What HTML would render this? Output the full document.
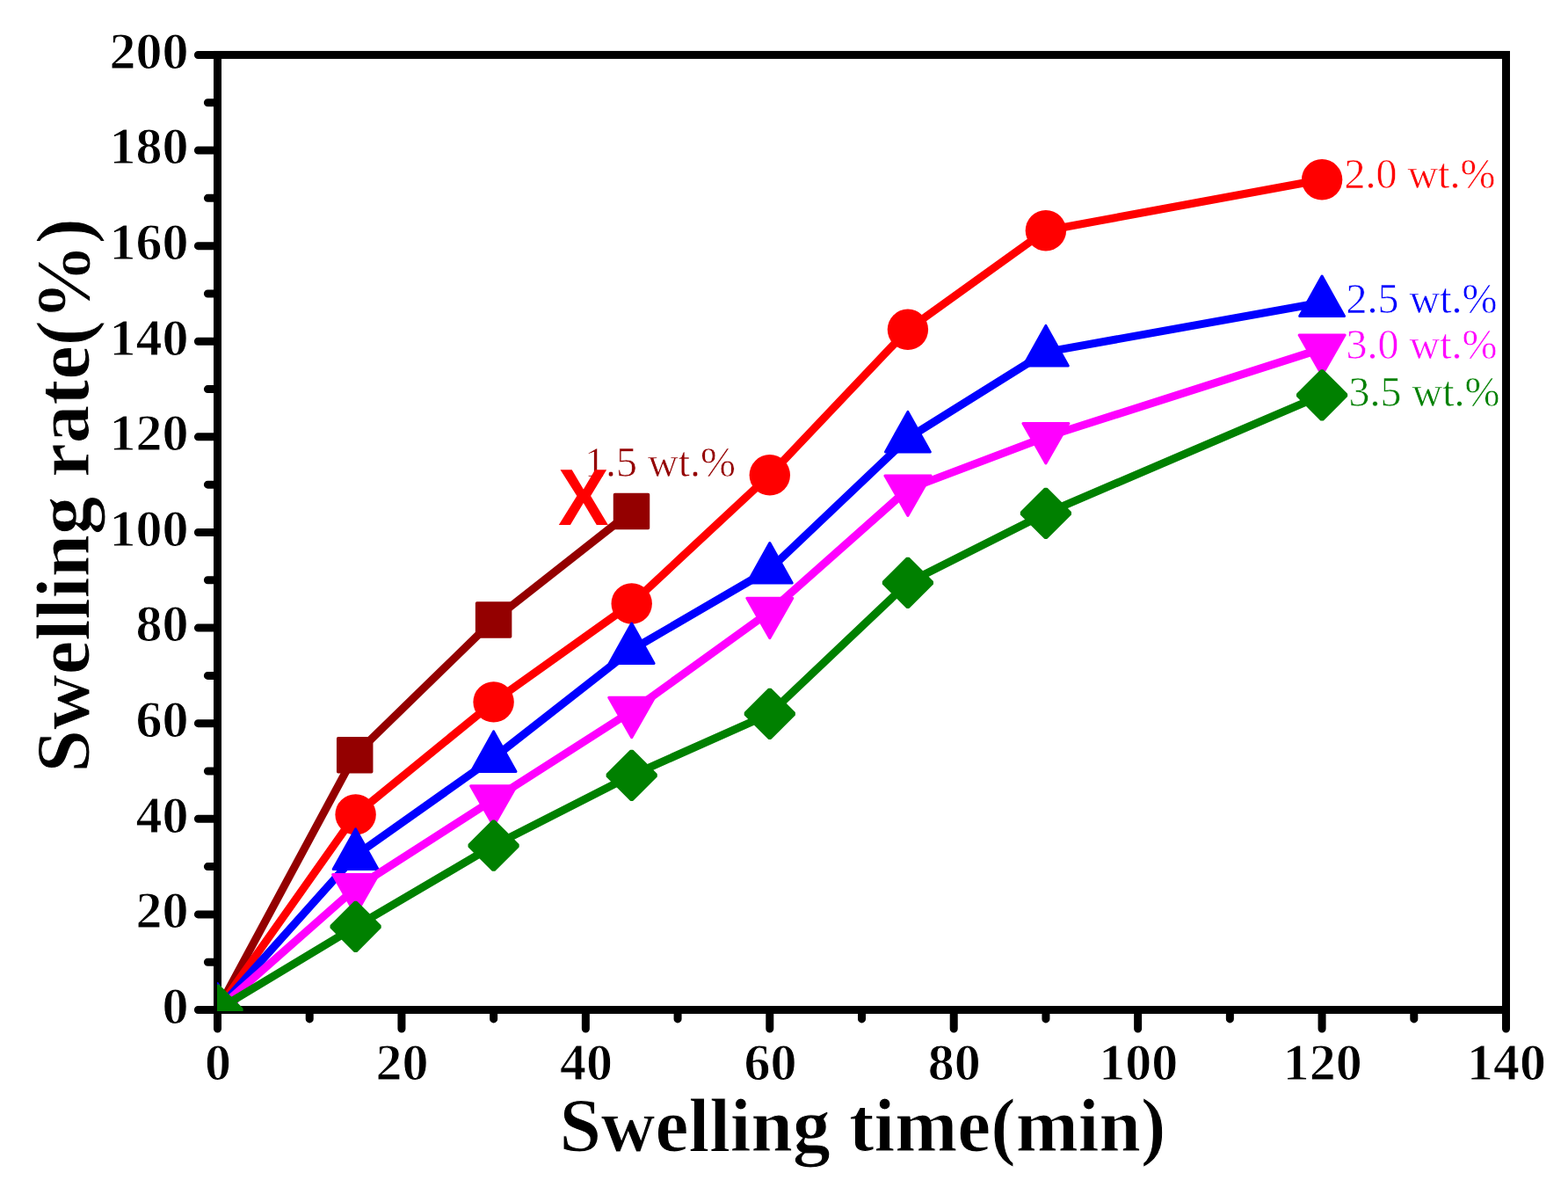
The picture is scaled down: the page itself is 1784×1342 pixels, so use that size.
<!DOCTYPE html>
<html><head><meta charset="utf-8"><title>Swelling rate vs swelling time</title>
<style>html,body{margin:0;padding:0;background:#fff;}svg{display:block;}</style></head><body>
<svg width="1784" height="1342" viewBox="0 0 1784 1342">
<rect width="1784" height="1342" fill="#fff"/>
<defs><clipPath id="pa"><rect x="247" y="58" width="1466.5" height="1092"/></clipPath></defs>
<rect x="247.5" y="62.45" width="1466.0" height="1086.05" fill="none" stroke="#000" stroke-width="9" stroke-linejoin="miter"/>
<path d="M247.5,1148.50H225.4M247.5,1094.20H236.4M247.5,1039.89H225.4M247.5,985.59H236.4M247.5,931.29H225.4M247.5,876.99H236.4M247.5,822.68H225.4M247.5,768.38H236.4M247.5,714.08H225.4M247.5,659.78H236.4M247.5,605.48H225.4M247.5,551.17H236.4M247.5,496.87H225.4M247.5,442.57H236.4M247.5,388.26H225.4M247.5,333.96H236.4M247.5,279.66H225.4M247.5,225.36H236.4M247.5,171.05H225.4M247.5,116.75H236.4M247.5,62.45H225.4M247.50,1148.5V1170.0M352.21,1148.5V1158.9M456.93,1148.5V1170.0M561.64,1148.5V1158.9M666.36,1148.5V1170.0M771.07,1148.5V1158.9M875.79,1148.5V1170.0M980.50,1148.5V1158.9M1085.21,1148.5V1170.0M1189.93,1148.5V1158.9M1294.64,1148.5V1170.0M1399.36,1148.5V1158.9M1504.07,1148.5V1170.0M1608.79,1148.5V1158.9M1713.50,1148.5V1170.0" stroke="#000" stroke-width="9" stroke-linecap="round" fill="none"/>
<g font-family="Liberation Serif, Times New Roman, serif" font-weight="bold" font-size="60" fill="#000" stroke="#fff" stroke-width="1.0">
<text x="214.5" y="1163.8" text-anchor="end">0</text>
<text x="214.5" y="1055.2" text-anchor="end">20</text>
<text x="214.5" y="946.6" text-anchor="end">40</text>
<text x="214.5" y="838.0" text-anchor="end">60</text>
<text x="214.5" y="729.4" text-anchor="end">80</text>
<text x="214.5" y="620.8" text-anchor="end">100</text>
<text x="214.5" y="512.2" text-anchor="end">120</text>
<text x="214.5" y="403.6" text-anchor="end">140</text>
<text x="214.5" y="295.0" text-anchor="end">160</text>
<text x="214.5" y="186.4" text-anchor="end">180</text>
<text x="214.5" y="77.8" text-anchor="end">200</text>
<text x="248.1" y="1228.3" text-anchor="middle">0</text>
<text x="457.5" y="1228.3" text-anchor="middle">20</text>
<text x="667.0" y="1228.3" text-anchor="middle">40</text>
<text x="876.4" y="1228.3" text-anchor="middle">60</text>
<text x="1085.8" y="1228.3" text-anchor="middle">80</text>
<text x="1295.2" y="1228.3" text-anchor="middle">100</text>
<text x="1504.7" y="1228.3" text-anchor="middle">120</text>
<text x="1714.1" y="1228.3" text-anchor="middle">140</text>
</g>
<text x="636.4" y="1308.5" font-family="Liberation Serif, Times New Roman, serif" font-weight="bold" font-size="87" stroke="#fff" stroke-width="1.0" textLength="690" lengthAdjust="spacingAndGlyphs">Swelling time(min)</text>
<text transform="translate(100.5,878.4) rotate(-90)" x="0" y="0" font-family="Liberation Serif, Times New Roman, serif" font-weight="bold" font-size="87" stroke="#fff" stroke-width="1.0" textLength="630" lengthAdjust="spacingAndGlyphs">Swelling rate(%)</text>
<g clip-path="url(#pa)">
<polyline points="247.5,1148.5 403.7,858.7 561.6,705.0 718.5,581.6" fill="none" stroke="#940000" stroke-width="9" stroke-linejoin="round" stroke-linecap="round"/>
<rect x="228.5" y="1129.5" width="38.0" height="38.0" fill="#940000" stroke="#940000" stroke-width="3.5" stroke-linejoin="round"/>
<rect x="384.7" y="839.7" width="38.0" height="38.0" fill="#940000" stroke="#940000" stroke-width="3.5" stroke-linejoin="round"/>
<rect x="542.6" y="686.0" width="38.0" height="38.0" fill="#940000" stroke="#940000" stroke-width="3.5" stroke-linejoin="round"/>
<rect x="699.5" y="562.6" width="38.0" height="38.0" fill="#940000" stroke="#940000" stroke-width="3.5" stroke-linejoin="round"/>
<polyline points="247.5,1148.5 404.6,926.4 561.6,798.4 718.7,686.5 875.8,540.3 1032.9,374.8 1189.9,262.2 1504.1,204.3" fill="none" stroke="#ff0000" stroke-width="9" stroke-linejoin="round" stroke-linecap="round"/>
<circle cx="247.5" cy="1148.5" r="23.2" fill="#ff0000"/>
<circle cx="404.6" cy="926.4" r="23.2" fill="#ff0000"/>
<circle cx="561.6" cy="798.4" r="23.2" fill="#ff0000"/>
<circle cx="718.7" cy="686.5" r="23.2" fill="#ff0000"/>
<circle cx="875.8" cy="540.3" r="23.2" fill="#ff0000"/>
<circle cx="1032.9" cy="374.8" r="23.2" fill="#ff0000"/>
<circle cx="1189.9" cy="262.2" r="23.2" fill="#ff0000"/>
<circle cx="1504.1" cy="204.3" r="23.2" fill="#ff0000"/>
<polyline points="247.5,1148.5 404.6,972.9 561.6,861.9 718.7,739.0 875.8,647.5 1032.9,498.4 1189.9,400.4 1504.1,344.0" fill="none" stroke="#0000ff" stroke-width="9" stroke-linejoin="round" stroke-linecap="round"/>
<polygon points="247.5,1118.5 272.9,1164.0 222.1,1164.0" fill="#0000ff" stroke="#0000ff" stroke-width="3" stroke-linejoin="round"/>
<polygon points="404.6,942.9 430.0,988.4 379.2,988.4" fill="#0000ff" stroke="#0000ff" stroke-width="3" stroke-linejoin="round"/>
<polygon points="561.6,831.9 587.0,877.4 536.2,877.4" fill="#0000ff" stroke="#0000ff" stroke-width="3" stroke-linejoin="round"/>
<polygon points="718.7,709.0 744.1,754.5 693.3,754.5" fill="#0000ff" stroke="#0000ff" stroke-width="3" stroke-linejoin="round"/>
<polygon points="875.8,617.5 901.2,663.0 850.4,663.0" fill="#0000ff" stroke="#0000ff" stroke-width="3" stroke-linejoin="round"/>
<polygon points="1032.9,468.4 1058.3,513.9 1007.5,513.9" fill="#0000ff" stroke="#0000ff" stroke-width="3" stroke-linejoin="round"/>
<polygon points="1189.9,370.4 1215.3,415.9 1164.5,415.9" fill="#0000ff" stroke="#0000ff" stroke-width="3" stroke-linejoin="round"/>
<polygon points="1504.1,314.0 1529.5,359.5 1478.7,359.5" fill="#0000ff" stroke="#0000ff" stroke-width="3" stroke-linejoin="round"/>
<polyline points="247.5,1148.5 404.6,1010.0 561.6,909.3 718.7,808.8 875.8,695.7 1032.9,556.4 1189.9,497.0 1504.1,396.6" fill="none" stroke="#ff00ff" stroke-width="9" stroke-linejoin="round" stroke-linecap="round"/>
<polygon points="247.5,1178.5 273.5,1133.0 221.5,1133.0" fill="#ff00ff" stroke="#ff00ff" stroke-width="3" stroke-linejoin="round"/>
<polygon points="404.6,1040.0 430.6,994.5 378.6,994.5" fill="#ff00ff" stroke="#ff00ff" stroke-width="3" stroke-linejoin="round"/>
<polygon points="561.6,939.3 587.6,893.8 535.6,893.8" fill="#ff00ff" stroke="#ff00ff" stroke-width="3" stroke-linejoin="round"/>
<polygon points="718.7,838.8 744.7,793.3 692.7,793.3" fill="#ff00ff" stroke="#ff00ff" stroke-width="3" stroke-linejoin="round"/>
<polygon points="875.8,725.7 901.8,680.2 849.8,680.2" fill="#ff00ff" stroke="#ff00ff" stroke-width="3" stroke-linejoin="round"/>
<polygon points="1032.9,586.4 1058.9,540.9 1006.9,540.9" fill="#ff00ff" stroke="#ff00ff" stroke-width="3" stroke-linejoin="round"/>
<polygon points="1189.9,527.0 1215.9,481.5 1163.9,481.5" fill="#ff00ff" stroke="#ff00ff" stroke-width="3" stroke-linejoin="round"/>
<polygon points="1504.1,426.6 1530.1,381.1 1478.1,381.1" fill="#ff00ff" stroke="#ff00ff" stroke-width="3" stroke-linejoin="round"/>
<polyline points="247.5,1148.5 404.6,1053.9 561.6,961.7 718.7,881.8 875.8,811.8 1032.9,662.8 1189.9,583.8 1504.1,449.4" fill="none" stroke="#008000" stroke-width="9" stroke-linejoin="round" stroke-linecap="round"/>
<polygon points="246.4,1120.6 248.6,1120.6 275.4,1147.4 275.4,1149.6 248.6,1176.4 246.4,1176.4 219.6,1149.6 219.6,1147.4" fill="#008000" stroke="#008000" stroke-width="2.4" stroke-linejoin="round"/>
<polygon points="403.5,1026.0 405.7,1026.0 432.5,1052.8 432.5,1055.0 405.7,1081.8 403.5,1081.8 376.7,1055.0 376.7,1052.8" fill="#008000" stroke="#008000" stroke-width="2.4" stroke-linejoin="round"/>
<polygon points="560.5,933.8 562.7,933.8 589.5,960.6 589.5,962.8 562.7,989.6 560.5,989.6 533.7,962.8 533.7,960.6" fill="#008000" stroke="#008000" stroke-width="2.4" stroke-linejoin="round"/>
<polygon points="717.6,853.9 719.8,853.9 746.6,880.7 746.6,882.9 719.8,909.7 717.6,909.7 690.8,882.9 690.8,880.7" fill="#008000" stroke="#008000" stroke-width="2.4" stroke-linejoin="round"/>
<polygon points="874.7,783.9 876.9,783.9 903.7,810.7 903.7,812.9 876.9,839.7 874.7,839.7 847.9,812.9 847.9,810.7" fill="#008000" stroke="#008000" stroke-width="2.4" stroke-linejoin="round"/>
<polygon points="1031.8,634.9 1034.0,634.9 1060.8,661.7 1060.8,663.9 1034.0,690.7 1031.8,690.7 1005.0,663.9 1005.0,661.7" fill="#008000" stroke="#008000" stroke-width="2.4" stroke-linejoin="round"/>
<polygon points="1188.8,555.9 1191.0,555.9 1217.8,582.7 1217.8,584.9 1191.0,611.7 1188.8,611.7 1162.0,584.9 1162.0,582.7" fill="#008000" stroke="#008000" stroke-width="2.4" stroke-linejoin="round"/>
<polygon points="1503.0,421.5 1505.2,421.5 1532.0,448.3 1532.0,450.5 1505.2,477.3 1503.0,477.3 1476.2,450.5 1476.2,448.3" fill="#008000" stroke="#008000" stroke-width="2.4" stroke-linejoin="round"/>
</g>
<text x="665.0" y="541.8" font-family="Liberation Serif, Times New Roman, serif" font-size="48" stroke="#fff" stroke-width="0.6" fill="#940000">1.5 wt.%</text>
<text x="1529.4" y="214.0" font-family="Liberation Serif, Times New Roman, serif" font-size="48" stroke="#fff" stroke-width="0.6" fill="#ff0000">2.0 wt.%</text>
<text x="1531.6" y="356.2" font-family="Liberation Serif, Times New Roman, serif" font-size="48" stroke="#fff" stroke-width="0.6" fill="#0000ff">2.5 wt.%</text>
<text x="1531.6" y="408.2" font-family="Liberation Serif, Times New Roman, serif" font-size="48" stroke="#fff" stroke-width="0.6" fill="#ff00ff">3.0 wt.%</text>
<text x="1534.6" y="462.2" font-family="Liberation Serif, Times New Roman, serif" font-size="48" stroke="#fff" stroke-width="0.6" fill="#008000">3.5 wt.%</text>
<text x="635" y="597" font-family="Liberation Sans, Arial, sans-serif" font-weight="bold" font-size="90" fill="#ff0000" transform="translate(635,0) scale(0.96,1) translate(-635,0)">X</text>
</svg></body></html>
